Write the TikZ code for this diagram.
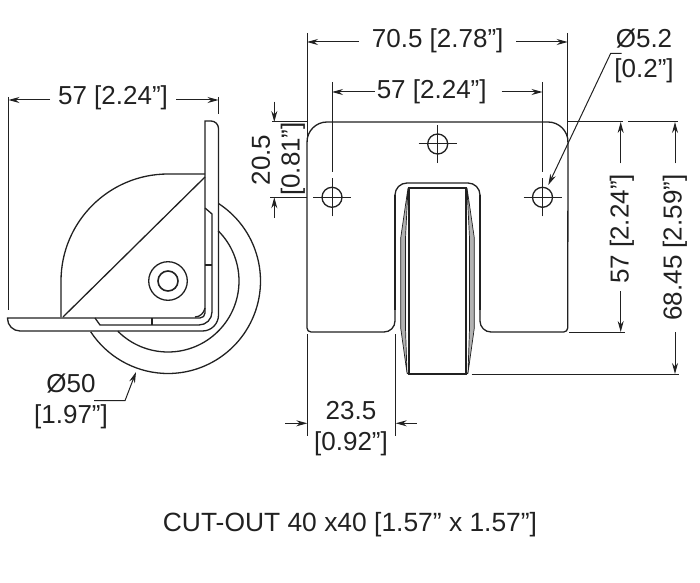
\documentclass[tikz,border=0pt]{standalone}
\usepackage{fontspec}
\setmainfont{Liberation Sans}
\usetikzlibrary{arrows.meta}
\definecolor{ink}{gray}{0.13}
\tikzset{
	part/.style={draw=ink,line width=1.3pt},
	taper/.style={draw=ink,line width=0.7pt,fill=gray!60},
	extline/.style={draw=ink,line width=1pt},
	dimline/.style={draw=ink,line width=1pt,-{Stealth[length=11pt,width=6pt]}},
	dimtext/.style={text=ink,font=\fontsize{26}{30}\selectfont,inner sep=0pt,align=center},
	hole/.pic={
		\draw[part] (0,0) circle (10);
		\draw[extline] (-19,0) -- (19,0) (0,-19) -- (0,19);
	}
}
\begin{document}
\begin{tikzpicture}[x=1pt,y=1pt]
	\useasboundingbox (0,0) rectangle (700,582);
	
	% side view
	\coordinate (hub) at (168,301);
	\draw[part] (hub) circle (19.3);
	\draw[part,line width=1.6pt] (hub) circle (10);
	\draw[part] (hub) ++(56.7:92.5) arc[start angle=56.7,end angle=-146.7,radius=92.5];
	\draw[part] (hub) ++(45:71) arc[start angle=45,end angle=-135,radius=71];
	% gusset
	\draw[part] (205,408) -- (168,408) arc[start angle=90,end angle=180,radius=107] -- (61,265);
	\draw[part] (63,265) -- (205,405);
	% bracket
	\draw[part] (205,461) -- (211,461) arc[start angle=90,end angle=0,radius=7.5] -- (218.5,267)
		arc[start angle=0,end angle=-90,radius=16] -- (20,251)
		arc[start angle=270,end angle=180,radius=12.5] -- (7.5,264) -- (200,264)
		arc[start angle=-90,end angle=0,radius=5] -- cycle;
	\draw[part] (205,374) -- (212,368) -- (212,270) arc[start angle=0,end angle=-90,radius=13] -- (100,257) -- (95,264);
	\draw[part] (205,317) -- (212,317);
	\draw[part] (152,264) -- (152,257);
	\draw[part] (195,265) .. controls (200,265) and (204,269) .. (205,274);
	
	% front view
	\draw[part] (307,440) arc[start angle=180,end angle=90,radius=20] -- (548,460)
		arc[start angle=90,end angle=0,radius=20] -- (567.7,254)
		arc[start angle=0,end angle=-90,radius=4] -- (491,250)
		arc[start angle=-90,end angle=-180,radius=11] -- (480,387)
		arc[start angle=0,end angle=90,radius=12] -- (468,399) -- (407,399)
		arc[start angle=90,end angle=180,radius=12] -- (395,261)
		arc[start angle=0,end angle=-90,radius=11] -- (311,250)
		arc[start angle=-90,end angle=-180,radius=4] -- cycle;
	\draw[part,line width=2.4pt] (395,387) -- (395,272) (480,387) -- (480,272);
	% wheel
	\filldraw[taper] (408,394) -- (400.7,344) -- (400.7,254) -- (407,209) -- (405.5,254) -- (405.5,344) -- cycle;
	\filldraw[taper] (467,394) -- (474.3,344) -- (474.3,254) -- (468,209) -- (469.5,254) -- (469.5,344) -- cycle;
	\draw[part] (409,394) -- (409,208) -- (466,208) -- (466,394);
	\draw[part,line width=2pt] (408,394) -- (467,394);
	\draw[part] (407,209) -- (409,208) (468,209) -- (466,208);
	% holes
	\pic at (437.7,438) {hole};
	\pic at (332,384.7) {hole};
	\pic at (542.5,384.7) {hole};
	
	% dimensions, side view
	\node[dimtext] (widthside) at (113,484) {57 [2.24”]};
	\coordinate (sideL) at (8.5,482);
	\coordinate (sideR) at (218.5,482);
	\draw[extline] (8.5,485) -- (8.5,272);
	\draw[extline] (218.5,485) -- (218.5,468);
	\draw[dimline] (50,482) -- (sideL);
	\draw[dimline] (176,482) -- (sideR);
	\node[dimtext] (diawheel) at (71,198) {Ø50};
	\node[dimtext] (diawheelin) at (71,165) {[1.97”]};
	\coordinate (diawheeltip) at (136,210);
	\draw[dimline] (94,181.3) -- (125,181.3) -- (diawheeltip);
	
	% dimensions, front view
	\node[dimtext] (widthfront) at (437.7,541) {70.5 [2.78”]};
	\coordinate (frontL) at (307,540);
	\coordinate (frontR) at (567.7,540);
	\draw[extline] (307,549) -- (307,440) (567.7,549) -- (567.7,440);
	\draw[dimline] (359,540) -- (frontL);
	\draw[dimline] (516,540) -- (frontR);
	\node[dimtext] (pitch) at (431.7,490) {57 [2.24”]};
	\coordinate (pitchL) at (332,490);
	\coordinate (pitchR) at (542.5,490);
	\draw[extline] (332,500) -- (332,410) (542.5,500) -- (542.5,410);
	\draw[dimline] (375,490) -- (pitchL);
	\draw[dimline] (501.5,490) -- (pitchR);
	\node[dimtext] (diahole) at (644,543) {Ø5.2};
	\node[dimtext] (diaholein) at (644,511) {[0.2”]};
	\coordinate (diaholetip) at (548.3,397);
	\draw[dimline] (621.7,528.7) -- (610.7,528.7) -- (diaholetip);
	\draw[extline] (272,460) -- (307,460) (567.7,460) -- (623,460) (628,460) -- (678,460);
	
	\node[dimtext,rotate=90] (topA) at (261,422) {20.5};
	\node[dimtext,rotate=90] (topB) at (293,423) {[0.81”]};
	\coordinate (topT) at (274.3,460);
	\coordinate (topU) at (274.3,384.7);
	\draw[extline] (270,384.7) -- (306.7,384.7);
	\draw[dimline] (274.3,480.3) -- (topT);
	\draw[dimline] (274.3,364) -- (topU);
	
	\node[dimtext,rotate=90] (heightA) at (622,353) {57 [2.24”]};
	\coordinate (heightAtop) at (620.7,460);
	\coordinate (heightAbot) at (620.7,250);
	\draw[dimline] (620.7,418.7) -- (heightAtop);
	\draw[dimline] (620.7,291) -- (heightAbot);
	\draw[extline] (569,250) -- (625,250);
	\node[dimtext,rotate=90] (heightB) at (675,334.5) {68.45 [2.59”]};
	\coordinate (heightBtop) at (675,460);
	\coordinate (heightBbot) at (675,208);
	\draw[dimline] (675,418.7) -- (heightBtop);
	\draw[dimline] (675,250) -- (heightBbot);
	\draw[extline] (471.7,208) -- (679,208);
	
	\node[dimtext] (slotA) at (351,171) {23.5};
	\node[dimtext] (slotB) at (351,138) {[0.92”]};
	\coordinate (slotL) at (307.3,158.7);
	\coordinate (slotR) at (395.7,158.7);
	\draw[extline] (307.3,248) -- (307.3,146) (395.7,248) -- (395.7,146);
	\draw[dimline] (285,158.7) -- (slotL);
	\draw[dimline] (416.7,158.7) -- (slotR);
	
	\node[dimtext,font=\fontsize{26.4}{30}\selectfont] (cutout) at (350,57) {CUT-OUT 40 x40 [1.57” x 1.57”]};
	
\end{tikzpicture}
\end{document}
